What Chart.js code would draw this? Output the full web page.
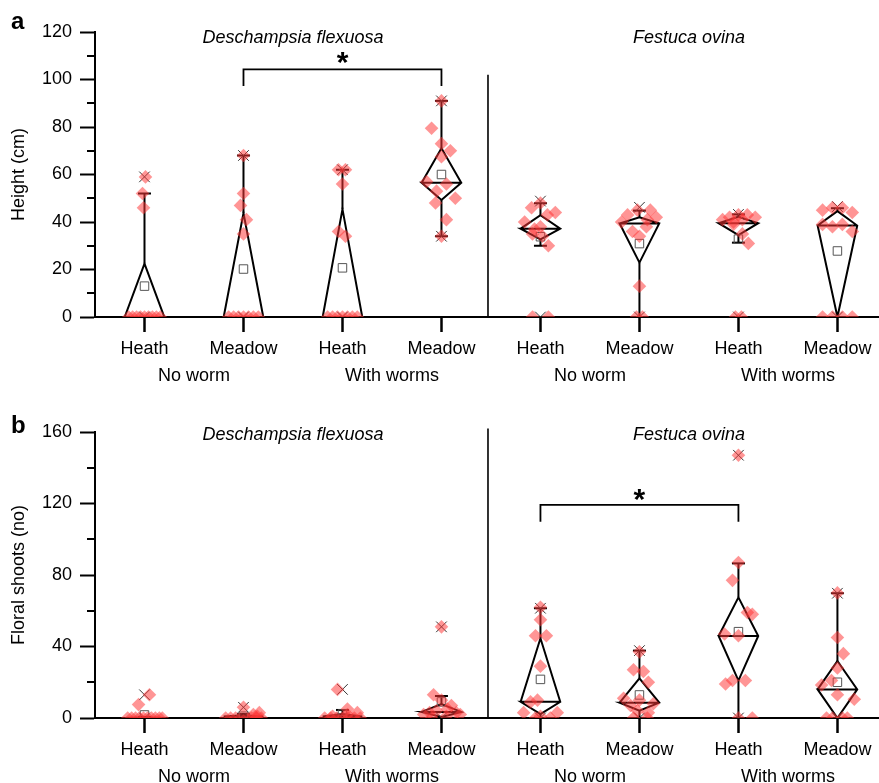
<!DOCTYPE html>
<html><head><meta charset="utf-8">
<script src="https://cdn.jsdelivr.net/npm/chart.js@4.4.1/dist/chart.umd.min.js"></script>
<style>
html,body{margin:0;padding:0;background:#fff;width:879px;height:783px;overflow:hidden;}
#wa{position:absolute;left:0;top:0;width:879px;height:392px;}
#wb{position:absolute;left:0;top:392px;width:879px;height:400px;}
</style></head><body>
<div id="wa"><canvas id="ca" width="879" height="392"></canvas></div>
<div id="wb"><canvas id="cb" width="879" height="400"></canvas></div>
<script>
// ---------- categories / tick labels ----------
const groupLabels = ['Heath','Meadow','Heath','Meadow','Heath','Meadow','Heath','Meadow'];
const groupPositions = [1,2,3,4,5,6,7,8];
const treatmentLabels = ['No worm','With worms','No worm','With worms'];
const treatmentPositions = [1.5,3.5,5.5,7.5];
const speciesLabels = ['Deschampsia flexuosa','Festuca ovina'];
const speciesPositions = [2.5,6.5];

// ---------- panel a: height (cm) ----------
const heightValues = [
  [0,0,0,0,0,0,0,0,0,46,52,59],
  [0,0,0,0,0,0,0,35,41,47,52,68],
  [0,0,0,0,0,0,0,34,36,56,62,62],
  [91,79.5,73,70,67.5,57,56,53,50,48,41,34],
  [48,46,44,43,40,38,37,35,34,30,0,0],
  [45,45,43,42,41,40,38,36,34,13,0,0],
  [43,43,42,42,41,41,40,39,35,31,0,0],
  [46,46,45,44,39,38,39,36,0,0,0,0]
];
const heightJitter = [
  [-0.16,-0.12,-0.08,-0.04,0,0.04,0.08,0.12,0.16,-0.01,-0.02,0.01],
  [-0.15,-0.1,-0.05,0,0.05,0.1,0.15,0,0.03,-0.03,0,0],
  [-0.15,-0.1,-0.05,0,0.05,0.1,0.15,0.03,-0.04,0,-0.04,0.03],
  [0,-0.1,0,0.09,0,-0.15,0.05,-0.05,0.14,-0.06,0.05,0],
  [0,-0.09,0.15,0.07,-0.16,0,-0.06,-0.08,0.02,0.08,-0.08,0.08],
  [0.11,-0.02,-0.12,0.17,0.08,-0.18,0.07,-0.07,0,0,-0.03,0.03],
  [0,0.09,-0.09,0.17,-0.16,0.04,-0.05,-0.05,0.04,0.1,-0.03,0.03],
  [0.05,-0.05,-0.15,0.15,-0.15,-0.05,0.05,0.15,-0.15,-0.05,0.05,0.15]
];
const heightQ1 = [0,0,0,49.3,32.7,22.9,34.5,0];
const heightMedian = [0,0,0,56.5,37.2,39.4,39.5,38.5];
const heightQ3 = [22.5,43.8,45.4,71,42.9,42,42.2,44.6];
const heightWhiskerLow = [0,0,0,34,30,0,31.3,0];
const heightWhiskerHigh = [52,68,62,91,47.9,44.8,43.2,45.8];
const heightMean = [13,20.2,20.7,60,33.8,30.9,32.8,27.8];
const heightP1 = [0,0,0,34,0,0,0,0];
const heightP99 = [59,68,62,91,48.8,46.2,43.2,46.5];

// ---------- panel b: floral shoots (no) ----------
const floralValues = [
  [0,0,0,0,0,0,0,0,0,0,7.5,13],
  [0,0,0,0,0,0,0,0,1,2,3,6],
  [0,0,0,0,0,0,0,1,2,3,5,16],
  [51,13,10,7,5,4,3,3,2,2,1,0],
  [62,55,46,46,29,10,9,3,3,1,0,0],
  [37,27,26,20,11,10,8,7,4,3,0,0],
  [147,87,77,59,58,47,46,21,21,19,0,0],
  [70,45,36,28,21,18.5,13,10.5,0,0,0,0]
];
const floralJitter = [
  [-0.17,-0.13,-0.09,-0.05,-0.01,0.03,0.07,0.11,0.15,0.18,-0.06,0.05],
  [-0.18,-0.13,-0.08,-0.03,0.03,0.08,0.13,0.18,0.14,0.1,0.16,0],
  [-0.18,-0.12,-0.06,0,0.06,0.12,0.18,-0.1,0.05,0.15,0.05,-0.05],
  [0,-0.08,0,0.1,0.06,-0.05,0.15,-0.12,-0.18,0.19,0.05,-0.1],
  [0,0,-0.05,0.06,0,-0.03,-0.1,-0.17,0.17,0,0.1,-0.05],
  [0,-0.06,0.04,0.09,-0.16,0,0.14,-0.09,-0.02,0.09,-0.06,0.08],
  [0,0,-0.06,0.09,0.14,-0.14,0,-0.06,0.07,-0.13,0,0.14],
  [0,0,0.06,0,-0.06,-0.16,0,0.17,-0.11,-0.05,0.05,0.1]
];
const floralQ1 = [0,0,0,0.6,2.2,4.1,20.9,0];
const floralMedian = [0,0.8,0.8,3.4,9.1,8.6,45.9,16];
const floralQ3 = [0.3,1.6,2.2,7.8,44.6,22.2,67.5,31.9];
const floralWhiskerLow = [0,0,0,0,0,0,0,0];
const floralWhiskerHigh = [0.5,2.2,4.5,12.3,61.4,37.7,86.5,69.8];
const floralMean = [1.7,1,2.2,9,21.6,12.9,48.3,20];
const floralP1 = [0,0,0,0,0,0,0,0];
const floralP99 = [13,6,16,51,61.4,37.7,147,69.8];

// ---------- drawing ----------
const FONT = '"Liberation Sans", Arial, Helvetica, sans-serif';
const BOX_HALF = 0.2;

function buildDatasets(s) {
  const ds = [];
  const pts = [];
  s.values.forEach((g, i) => g.forEach((v, j) => pts.push({x: groupPositions[i] + s.jitter[i][j], y: v})));
  ds.push({data: pts, showLine: false, pointStyle: 'rectRot', pointRadius: 6.8,
    pointBackgroundColor: 'rgba(255,55,55,0.53)', pointBorderWidth: 0, pointBorderColor: 'rgba(0,0,0,0)', order: 0});
  ds.push({data: s.mean.map((m, i) => ({x: groupPositions[i], y: m})), showLine: false, pointStyle: 'rect',
    pointRadius: 6, pointBackgroundColor: 'rgba(255,255,255,0)', pointBorderColor: '#555', pointBorderWidth: 1, order: 1});
  const pct = [];
  s.p1.forEach((v, i) => pct.push({x: groupPositions[i], y: v}));
  s.p99.forEach((v, i) => pct.push({x: groupPositions[i], y: v}));
  ds.push({data: pct, showLine: false, pointStyle: 'crossRot', pointRadius: 7.5,
    pointBorderColor: '#333', pointBorderWidth: 1, order: 2});
  const caps = [];
  s.wHi.forEach((v, i) => caps.push({x: groupPositions[i], y: v}));
  s.wLo.forEach((v, i) => { if (v < s.q1[i]) caps.push({x: groupPositions[i], y: v}); });
  ds.push({data: caps, showLine: false, pointStyle: 'line', pointRadius: 6.5,
    pointBorderColor: '#000', pointBorderWidth: 2, order: 3});
  const lineStyle = {showLine: true, pointRadius: 0, borderColor: '#000', borderWidth: 2, fill: false, tension: 0, order: 4};
  groupPositions.forEach((c, i) => {
    const q1 = s.q1[i], md = s.med[i], q3 = s.q3[i];
    ds.push(Object.assign({data: [
      {x: c - BOX_HALF, y: md}, {x: c, y: q3}, {x: c + BOX_HALF, y: md}, {x: c, y: q1},
      {x: c - BOX_HALF, y: md}, {x: c + BOX_HALF, y: md}]}, lineStyle));
    if (s.wHi[i] > q3) ds.push(Object.assign({data: [{x: c, y: q3}, {x: c, y: s.wHi[i]}]}, lineStyle));
    if (s.wLo[i] < q1) ds.push(Object.assign({data: [{x: c, y: q1}, {x: c, y: s.wLo[i]}]}, lineStyle));
  });
  return ds;
}

const decorPlugin = {
  id: 'panelDecor',
  afterDraw(chart, args, o) {
    const {ctx, chartArea} = chart;
    const x = chart.scales.x, y = chart.scales.y;
    ctx.save();
    ctx.strokeStyle = '#000';
    ctx.lineWidth = 2;
    o.minorTicks.forEach(v => {
      const py = Math.round(y.getPixelForValue(v));
      ctx.beginPath(); ctx.moveTo(chartArea.left - 8, py); ctx.lineTo(chartArea.left, py); ctx.stroke();
    });
    // divider between species
    ctx.lineWidth = 1.6;
    const dx = x.getPixelForValue(o.dividerX);
    ctx.beginPath(); ctx.moveTo(dx, y.getPixelForValue(0)); ctx.lineTo(dx, y.getPixelForValue(o.dividerTop)); ctx.stroke();
    // significance bracket
    ctx.lineWidth = 1.8;
    const bx1 = x.getPixelForValue(o.bracket[0]), bx2 = x.getPixelForValue(o.bracket[1]);
    const by = y.getPixelForValue(o.bracketY), be = y.getPixelForValue(o.bracketEnd);
    ctx.beginPath(); ctx.moveTo(bx1, be); ctx.lineTo(bx1, by); ctx.lineTo(bx2, by); ctx.lineTo(bx2, be); ctx.stroke();
    ctx.fillStyle = '#000';
    ctx.font = 'bold 30px ' + FONT;
    ctx.textAlign = 'center'; ctx.textBaseline = 'alphabetic';
    const m = ctx.measureText('*');
    const sy = y.getPixelForValue(o.starY);
    ctx.fillText('*', (bx1 + bx2) / 2, sy + (m.actualBoundingBoxAscent - m.actualBoundingBoxDescent) / 2);
    // species titles
    ctx.font = 'italic 18px ' + FONT;
    speciesLabels.forEach((t, i) => ctx.fillText(t, x.getPixelForValue(speciesPositions[i]), y.getPixelForValue(o.titleY)));
    // panel letter
    ctx.font = 'bold 24px ' + FONT;
    ctx.textAlign = 'left';
    ctx.fillText(o.letter, 11, o.letterY);
    ctx.restore();
  }
};

function makeChart(id, p) {
  const canvas = document.getElementById(id);
  return new Chart(canvas, {
    type: 'scatter',
    data: {datasets: buildDatasets(p.series)},
    options: {
      responsive: false, animation: false, devicePixelRatio: 1, events: [],
      layout: {autoPadding: false, padding: {top: p.padTop, right: 0, bottom: p.padBottom, left: 0}},
      plugins: {legend: {display: false}, tooltip: {enabled: false}, panelDecor: p.decor},
      scales: {
        x: {type: 'linear', position: 'bottom', min: 0.5, max: 8.42,
          afterBuildTicks: s => { s.ticks = groupPositions.map(v => ({value: v})); },
          afterFit: s => { s.height = 43; },
          ticks: {autoSkip: false, maxRotation: 0, minRotation: 0, padding: 6, color: '#000',
            font: {family: FONT, size: 18}, callback: (v, i) => groupLabels[i]},
          grid: {display: true, drawOnChartArea: false, drawTicks: true, tickLength: 15, tickWidth: 2.5, tickColor: '#000'},
          border: {display: true, color: '#000', width: 2}},
        x2: {type: 'linear', position: 'bottom', min: 0.5, max: 8.42,
          afterBuildTicks: s => { s.ticks = treatmentPositions.map(v => ({value: v})); },
          afterFit: s => { s.height = 30; },
          ticks: {autoSkip: false, maxRotation: 0, minRotation: 0, padding: 5, color: '#000',
            font: {family: FONT, size: 18}, callback: (v, i) => treatmentLabels[i]},
          grid: {display: false, drawTicks: false, tickLength: 0}, border: {display: false}},
        y: {type: 'linear', position: 'left', min: 0, max: p.yMax,
          afterFit: s => { s.width = 95; },
          ticks: {stepSize: p.yStep, padding: 8, color: '#000', font: {family: FONT, size: 18}},
          grid: {display: true, drawOnChartArea: false, drawTicks: true, tickLength: 15, tickWidth: 2, tickColor: '#000'},
          border: {display: true, color: '#000', width: 2},
          title: {display: true, text: p.yTitle, color: '#000', font: {family: FONT, size: 18}, padding: {top: 8, bottom: 0}}}
      }
    },
    plugins: [decorPlugin]
  });
}

makeChart('ca', {
  yMax: 120, yStep: 20, yTitle: 'Height (cm)', padTop: 32, padBottom: 2,
  series: {values: heightValues, jitter: heightJitter, q1: heightQ1, med: heightMedian, q3: heightQ3,
    wLo: heightWhiskerLow, wHi: heightWhiskerHigh, mean: heightMean, p1: heightP1, p99: heightP99},
  decor: {letter: 'a', letterY: 29, minorTicks: [10,30,50,70,90,110], dividerX: 4.47, dividerTop: 102,
    bracket: [2,4], bracketY: 104.3, bracketEnd: 97.3, starY: 109, titleY: 115.4}
});
makeChart('cb', {
  yMax: 160, yStep: 40, yTitle: 'Floral shoots (no)', padTop: 40, padBottom: 1,
  series: {values: floralValues, jitter: floralJitter, q1: floralQ1, med: floralMedian, q3: floralQ3,
    wLo: floralWhiskerLow, wHi: floralWhiskerHigh, mean: floralMean, p1: floralP1, p99: floralP99},
  decor: {letter: 'b', letterY: 41, minorTicks: [20,60,100,140], dividerX: 4.47, dividerTop: 162,
    bracket: [5,7], bracketY: 119.2, bracketEnd: 109.8, starY: 124.8, titleY: 155.5}
});
</script>
</body></html>
